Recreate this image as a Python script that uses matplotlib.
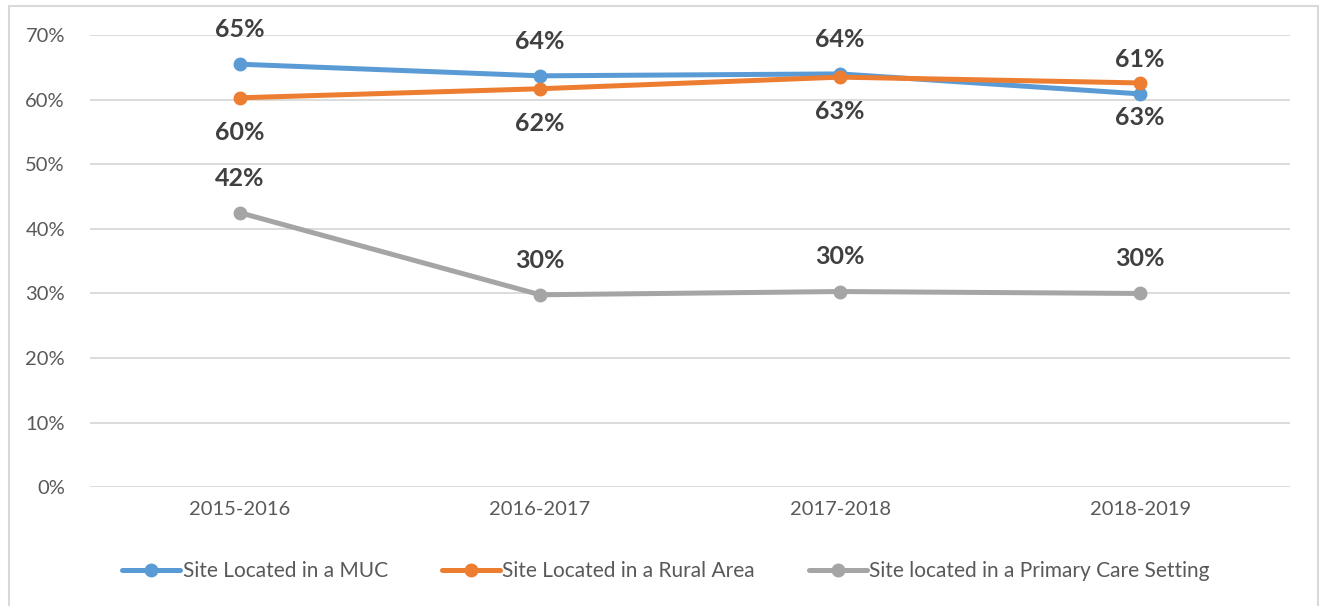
import matplotlib.pyplot as plt
from matplotlib.ticker import PercentFormatter
from matplotlib.patches import Rectangle

plt.rcParams['font.family'] = ['Lato', 'DejaVu Sans']

# data
years = ['2015-2016', '2016-2017', '2017-2018', '2018-2019']
muc = [0.655, 0.637, 0.640, 0.609]
rural = [0.603, 0.617, 0.635, 0.626]
primary = [0.425, 0.298, 0.303, 0.300]
muc_lbl = ['65%', '64%', '64%', '61%']
rural_lbl = ['60%', '62%', '63%', '63%']
primary_lbl = ['42%', '30%', '30%', '30%']

names = ['Site Located in a MUC', 'Site Located in a Rural Area',
         'Site located in a Primary Care Setting']
colors = ['#5B9BD5', '#ED7D31', '#A5A5A5']

fig = plt.figure(figsize=(13.22, 6.06), dpi=100)
ax = fig.add_axes([0.068, 0.196, 0.908, 0.746])

x = range(len(years))
series = [(muc, muc_lbl, 1), (rural, rural_lbl, -1), (primary, primary_lbl, 1)]
for (vals, lbls, side), c, n in zip(series, colors, names):
    ax.plot(x, vals, color=c, lw=3.6, marker='o', ms=9, label=n,
            solid_capstyle='round')
    for xi, v, t in zip(x, vals, lbls):
        ax.annotate(t, (xi, v), xytext=(0, 25 * side), textcoords='offset points',
                    ha='center', va='center', fontsize=18, fontweight='bold',
                    color='#404040')

ax.set_xlim(-0.5, 3.5)
ax.set_ylim(0, 0.7)
ax.set_yticks([i / 10 for i in range(8)])
ax.yaxis.set_major_formatter(PercentFormatter(1.0, decimals=0))
ax.set_xticks(list(x))
ax.set_xticklabels(years)
ax.grid(axis='y', color='#D9D9D9', lw=1.3)
ax.set_axisbelow(True)
for s in ax.spines.values():
    s.set_visible(False)
ax.tick_params(length=0, labelsize=14.5, colors='#595959', pad=10)
ax.tick_params(axis='y', pad=18)

leg = ax.legend(loc='center', bbox_to_anchor=(0.48, -0.185), ncol=3, frameon=False,
                fontsize=15, handlelength=2.8, handletextpad=0.1, columnspacing=2.6)
for t in leg.get_texts():
    t.set_color('#595959')

fig.patches.append(Rectangle((9 / 1322, -0.01), 1309 / 1322, 1 - 6 / 606 + 0.01,
                             transform=fig.transFigure, fill=False,
                             edgecolor='#D9D9D9', lw=1.5))

fig.savefig('out.png', dpi=100)
